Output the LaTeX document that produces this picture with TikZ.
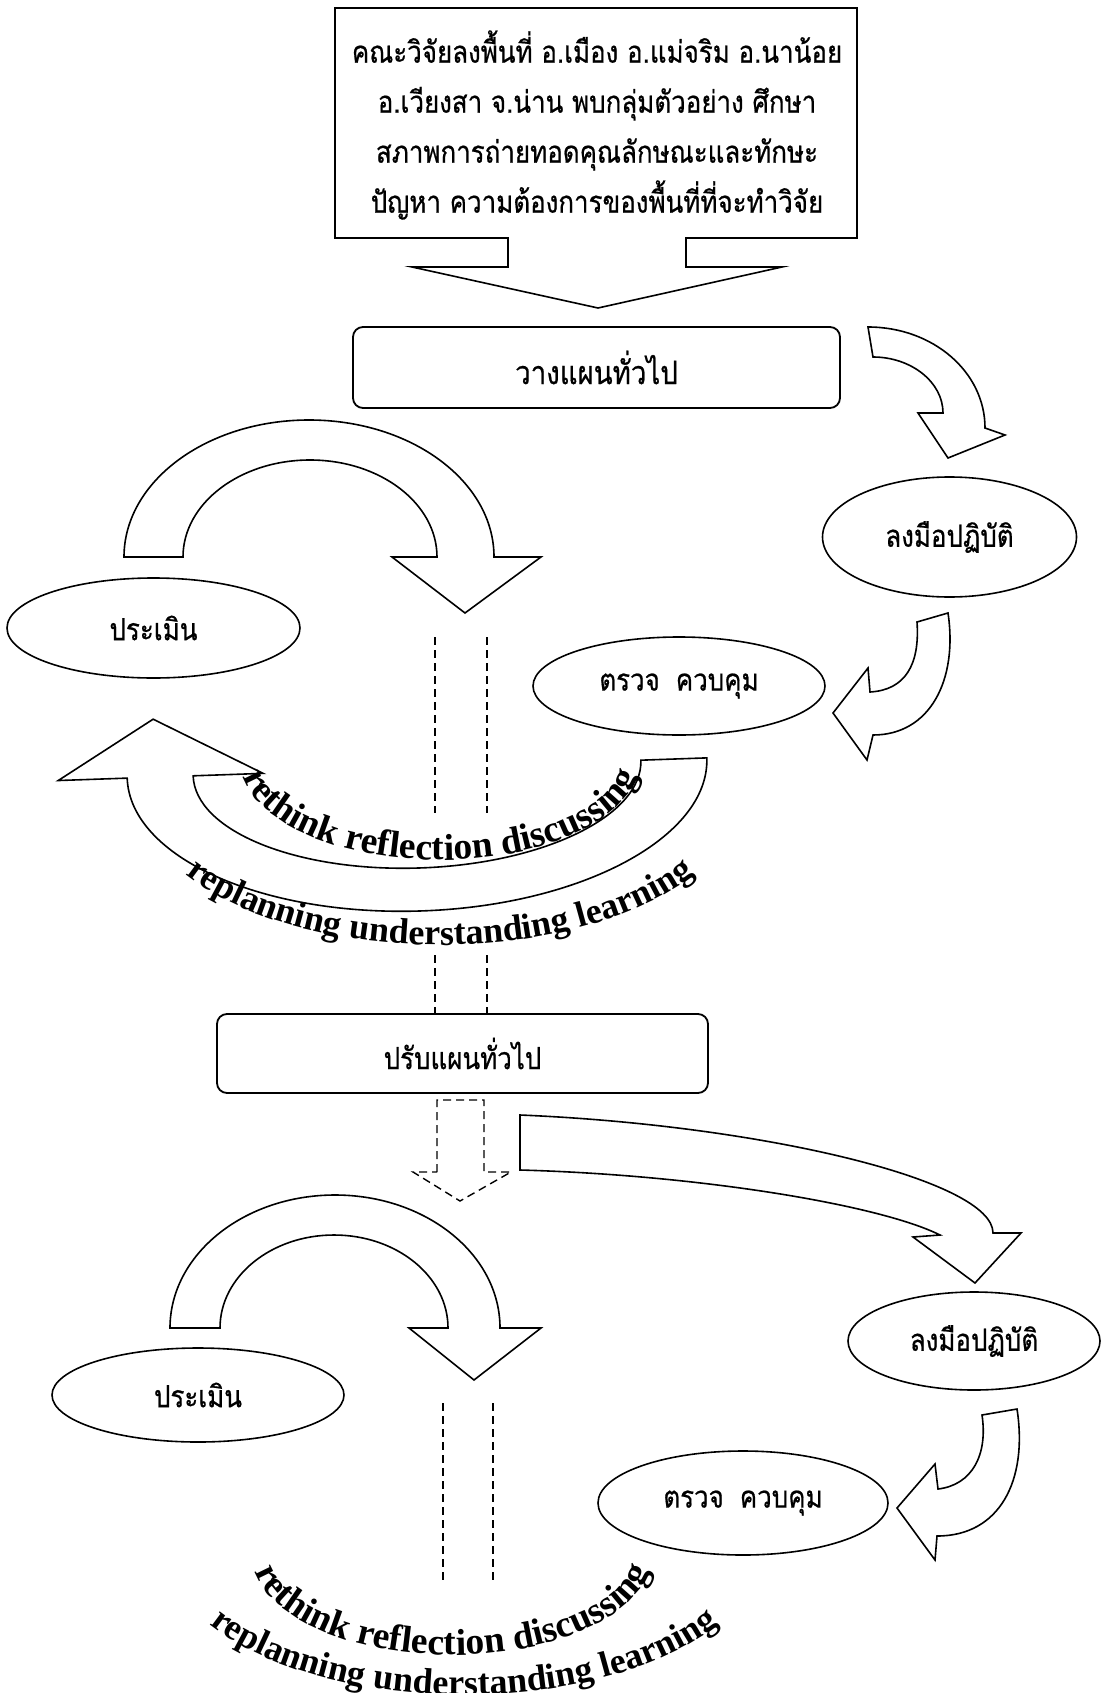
\documentclass[tikz,border=0pt]{standalone}
\usepackage{fontspec}
\usetikzlibrary{shapes.geometric,decorations.text}
\newfontfamily\thaifont[Script=Thai, FakeStretch=0.85, FakeBold=0.6]{Loma}
\newfontfamily\serifbold{Liberation Serif}
\newcommand\arctext{\serifbold\bfseries\fontsize{36}{36}\selectfont}
\newcommand\arctextbig{\serifbold\bfseries\fontsize{37.5}{37.5}\selectfont}

\begin{document}
\begin{tikzpicture}[
        x=1pt, y=-1pt,
        thai/.style={
            font=\thaifont\fontsize{30.5}{50}\selectfont,
        },
        planbox/.style={
            rectangle,
            draw,
            line width=1.8pt,
            rounded corners=10pt,
            font=\thaifont\fontsize{32.5}{40}\selectfont,
        },
        oval/.style={
            ellipse,
            draw,
            line width=1.6pt,
            inner sep=0pt,
            thai,
        },
        blockarrow/.style={
            draw,
            line width=1.6pt,
            line join=miter,
        },
        dashline/.style={
            line width=1.4pt,
            dash pattern=on 8pt off 5pt,
        },
        loopword/.style={
            decorate,
            decoration={text along path, text align=center, text={|\arctext|#1}},
        },
        loopwordbig/.style={
            decorate,
            decoration={text along path, text align=center, text={|\arctextbig|#1}},
        },
    ]
    \useasboundingbox (0,0) rectangle (1102,1693);

    \node (survey) at (597,125) [thai, align=center] {คณะวิจัยลงพื้นที่ อ.เมือง อ.แม่จริม อ.นาน้อย\\อ.เวียงสา จ.น่าน พบกลุ่มตัวอย่าง ศึกษา\\สภาพการถ่ายทอดคุณลักษณะและทักษะ\\ปัญหา ความต้องการของพื้นที่ที่จะทำวิจัย};
    \draw [blockarrow] (335,8) -- (857,8) -- (857,238) -- (686,238) -- (686,267) -- (782,267) -- (598,308) -- (412,267) -- (508,267) -- (508,238) -- (335,238) -- cycle;

    \node (plan) at (596.5,367.5) [planbox, minimum width=487pt, minimum height=81pt] {วางแผนทั่วไป};
    \node (act) at (949.5,537) [oval, minimum width=254pt, minimum height=120pt] {ลงมือปฏิบัติ};
    \node (check) at (679,686) [oval, minimum width=292pt, minimum height=98pt] {ตรวจ\hspace{16pt}ควบคุม};
    \node (assess) at (153.5,628) [oval, minimum width=293pt, minimum height=100pt] {ประเมิน};

    \draw [blockarrow] (868,327) .. controls (933,327) and (985,372) .. (985,428) -- (1005,435) -- (948,458) -- (918,413) -- (943,413) .. controls (943,382) and (911,357) .. (873,357) -- cycle;
    \draw [blockarrow] (948,613) .. controls (958,680) and (930,735) .. (873,735) -- (867,760) -- (833,713) -- (868,668) -- (870,692) .. controls (905,690) and (920,665) .. (917,622) -- cycle;
    \draw [blockarrow] (124,557) arc [start angle=180, end angle=360, x radius=185, y radius=137] -- (541,557) -- (465,613) -- (392,557) -- (437,557) arc [start angle=0, end angle=-180, x radius=127, y radius=97] -- cycle;

    \begin{scope}[shift={(417,768)}, rotate=2]
        \draw [blockarrow] (-224,0) arc [start angle=180, end angle=0, x radius=224, y radius=100] -- (290,0) arc [start angle=0, end angle=180, x radius=290, y radius=143] -- (-359,0) -- (-262,-58) -- (-154,0) -- cycle;
    \end{scope}
    \path [loopwordbig={rethink reflection discussing}] (240,760) arc [start angle=180, end angle=0, x radius=200, y radius=100];
    \path [loopword={replanning understanding learning}] (140,795) arc [start angle=180, end angle=0, x radius=300, y radius=150];

    \draw [dashline] (435,637) -- (435,813);
    \draw [dashline] (487,637) -- (487,813);

    \node (revise) at (462.5,1053.5) [planbox, minimum width=491pt, minimum height=79pt, font=\thaifont\fontsize{30.5}{40}\selectfont] {ปรับแผนทั่วไป};
    \draw [dashline] (435,955) -- (435,0 |- revise.north);
    \draw [dashline] (487,955) -- (487,0 |- revise.north);
    \draw [dashline] (437,1172) -- (437,1100) -- (484,1100) -- (484,1172) -- (511,1172) -- (460,1201) -- (413,1172) -- cycle;

    \node (act2) at (974,1341) [oval, minimum width=252pt, minimum height=98pt] {ลงมือปฏิบัติ};
    \node (check2) at (743,1503) [oval, minimum width=290pt, minimum height=104pt] {ตรวจ\hspace{16pt}ควบคุม};
    \node (assess2) at (198,1395) [oval, minimum width=292pt, minimum height=94pt] {ประเมิน};

    \draw [blockarrow] (520,1115) .. controls (760,1125) and (993,1180) .. (993,1233) -- (1021,1233) -- (975,1283) -- (913,1237) -- (940,1235) .. controls (880,1205) and (700,1175) .. (520,1170) -- cycle;
    \draw [blockarrow] (1017,1409) .. controls (1028,1480) and (1000,1536) .. (937,1536) -- (935,1560) -- (897,1508) -- (935,1464) -- (938,1489) .. controls (972,1485) and (988,1455) .. (982,1415) -- cycle;
    \draw [blockarrow] (170,1328) arc [start angle=180, end angle=360, x radius=165, y radius=133] -- (541,1328) -- (474,1380) -- (409,1328) -- (448,1328) arc [start angle=0, end angle=-180, x radius=114, y radius=93] -- cycle;

    \draw [dashline] (443,1403) -- (443,1583);
    \draw [dashline] (493,1403) -- (493,1583);

    \path [loopwordbig={rethink reflection discussing}] (252,1555) arc [start angle=180, end angle=0, x radius=200, y radius=100];
    \path [loopword={replanning understanding learning}] (164,1545) arc [start angle=180, end angle=0, x radius=300, y radius=150];

\end{tikzpicture}
\end{document}
